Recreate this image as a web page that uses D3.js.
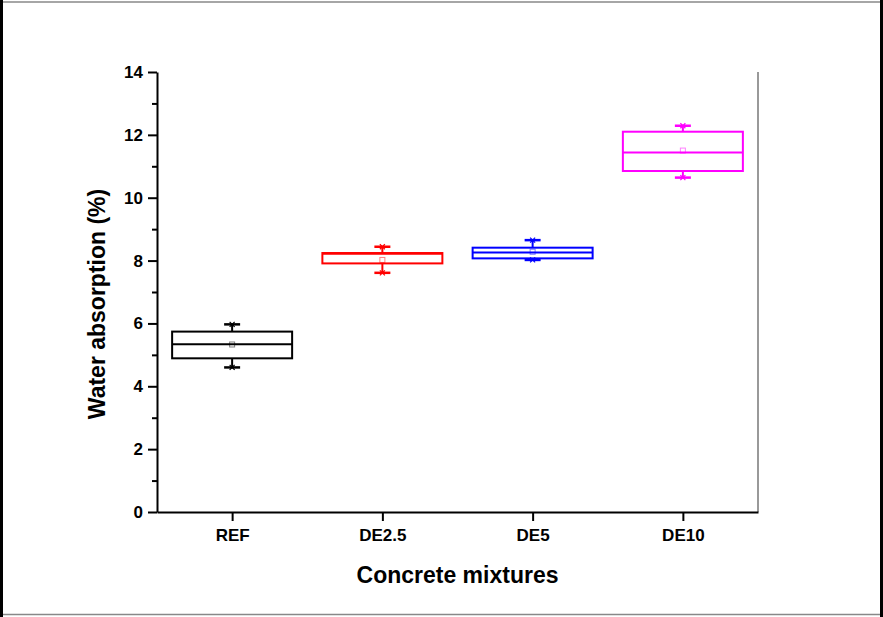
<!DOCTYPE html>
<html>
<head>
<meta charset="utf-8">
<script src="https://cdn.jsdelivr.net/npm/d3@7"></script>
<style>
  body { margin: 0; background: #fff; }
  svg { display: block; font-family: Arial, "Liberation Sans", sans-serif; }
</style>
</head>
<body>
<div id="chart"></div>
<script>
// data
var mixtures = ["REF", "DE2.5", "DE5", "DE10"];
var colors   = ["#000000", "#ff0000", "#0000ff", "#ff00ff"];
var whiskerLow  = [4.60, 7.61, 8.02, 10.64];
var q1          = [4.89, 7.91, 8.07, 10.85];
var medians     = [5.34, 8.22, 8.26, 11.44];
var q3          = [5.74, 8.24, 8.41, 12.10];
var whiskerHigh = [5.97, 8.44, 8.65, 12.29];
var means       = [5.33, 8.02, 8.28, 11.50];
var yTicks = [0, 2, 4, 6, 8, 10, 12, 14];

var W = 883, H = 617;
var margin = {top: 72, right: 125, bottom: 105, left: 157},
    width = W - margin.left - margin.right,
    height = H - margin.top - margin.bottom;

var svg = d3.select("#chart").append("svg")
    .attr("width", W)
    .attr("height", H);

// outer frame
svg.append("line").attr("x1", 0).attr("x2", W).attr("y1", 2).attr("y2", 2)
    .attr("stroke", "#888").attr("stroke-width", 1.5);
svg.append("line").attr("x1", 0).attr("x2", W).attr("y1", H - 2.5).attr("y2", H - 2.5)
    .attr("stroke", "#888").attr("stroke-width", 1.5);
svg.append("line").attr("x1", 1.5).attr("x2", 1.5).attr("y1", 0).attr("y2", H)
    .attr("stroke", "#000").attr("stroke-width", 3);
svg.append("line").attr("x1", W - 1.5).attr("x2", W - 1.5).attr("y1", 0).attr("y2", H)
    .attr("stroke", "#000").attr("stroke-width", 3);

var g = svg.append("g")
    .attr("transform", "translate(" + margin.left + "," + margin.top + ")");

var x = d3.scalePoint().domain(mixtures).range([0, width]).padding(0.5);
var y = d3.scaleLinear().domain([0, 14]).range([height, 0]);

var data = mixtures.map(function(m, i) {
    return {name: m, color: colors[i], lo: whiskerLow[i], q1: q1[i], med: medians[i],
            q3: q3[i], hi: whiskerHigh[i], mean: means[i]};
});

// right frame line (gray)
g.append("line")
    .attr("x1", width).attr("x2", width)
    .attr("y1", 0).attr("y2", height)
    .attr("stroke", "#999").attr("stroke-width", 2);

var boxW = 120, capW = 16;

var box = g.selectAll(".box")
    .data(data)
    .enter().append("g")
    .attr("class", "box")
    .attr("transform", function(d) { return "translate(" + x(d.name) + ",0)"; });

// whiskers
box.append("line")
    .attr("x1", 0).attr("x2", 0)
    .attr("y1", function(d) { return y(d.hi); })
    .attr("y2", function(d) { return y(d.q3); })
    .attr("stroke", function(d) { return d.color; }).attr("stroke-width", 2);
box.append("line")
    .attr("x1", 0).attr("x2", 0)
    .attr("y1", function(d) { return y(d.q1); })
    .attr("y2", function(d) { return y(d.lo); })
    .attr("stroke", function(d) { return d.color; }).attr("stroke-width", 2);

// caps
["hi", "lo"].forEach(function(k) {
    box.append("line")
        .attr("x1", -capW / 2).attr("x2", capW / 2)
        .attr("y1", function(d) { return y(d[k]); })
        .attr("y2", function(d) { return y(d[k]); })
        .attr("stroke", function(d) { return d.color; }).attr("stroke-width", 2.5);
    // small x markers at min / max
    box.append("path")
        .attr("d", function(d) {
            var cy = y(d[k]), s = 2.5;
            return "M" + (-s) + "," + (cy - s) + "L" + s + "," + (cy + s) +
                   "M" + s + "," + (cy - s) + "L" + (-s) + "," + (cy + s);
        })
        .attr("stroke", function(d) { return d.color; }).attr("stroke-width", 1.2)
        .attr("fill", "none");
});

// boxes
box.append("rect")
    .attr("x", -boxW / 2)
    .attr("width", boxW)
    .attr("y", function(d) { return y(d.q3); })
    .attr("height", function(d) { return y(d.q1) - y(d.q3); })
    .attr("fill", "none")
    .attr("stroke", function(d) { return d.color; })
    .attr("stroke-width", 2);

// medians
box.append("line")
    .attr("x1", -boxW / 2).attr("x2", boxW / 2)
    .attr("y1", function(d) { return y(d.med); })
    .attr("y2", function(d) { return y(d.med); })
    .attr("stroke", function(d) { return d.color; }).attr("stroke-width", 2);

// mean markers
box.append("rect")
    .attr("x", -2.5).attr("width", 5)
    .attr("y", function(d) { return y(d.mean) - 2.5; })
    .attr("height", 5)
    .attr("fill", "none")
    .attr("stroke", function(d) { return d.color; })
    .attr("stroke-opacity", 0.5)
    .attr("stroke-width", 1);

// axes
var yAxis = d3.axisLeft(y).tickValues(yTicks).tickSize(9).tickSizeOuter(0).tickPadding(5);
var yMinor = d3.axisLeft(y).tickValues(d3.range(1, 14, 2)).tickSize(5).tickFormat("");
var xAxis = d3.axisBottom(x).tickSize(9).tickSizeOuter(0).tickPadding(8);

g.append("g").attr("class", "y minor").call(yMinor)
    .select(".domain").remove();

g.append("g")
    .attr("class", "x axis")
    .attr("transform", "translate(0," + height + ")")
    .call(xAxis);

g.append("g")
    .attr("class", "y axis")
    .call(yAxis);

g.selectAll(".axis .domain, .axis line, .minor line")
    .attr("stroke", "#000").attr("stroke-width", 2);
g.selectAll(".axis text")
    .attr("fill", "#000")
    .style("font-size", "17px")
    .style("font-weight", "bold");

svg.append("text")
    .attr("transform", "rotate(-90)")
    .attr("x", -304)
    .attr("y", 105)
    .style("text-anchor", "middle")
    .style("font-size", "23px")
    .style("font-weight", "bold")
    .text("Water absorption (%)");

svg.append("text")
    .attr("x", margin.left + width / 2)
    .attr("y", 583)
    .style("text-anchor", "middle")
    .style("font-size", "23px")
    .style("font-weight", "bold")
    .text("Concrete mixtures");
</script>
</body>
</html>
